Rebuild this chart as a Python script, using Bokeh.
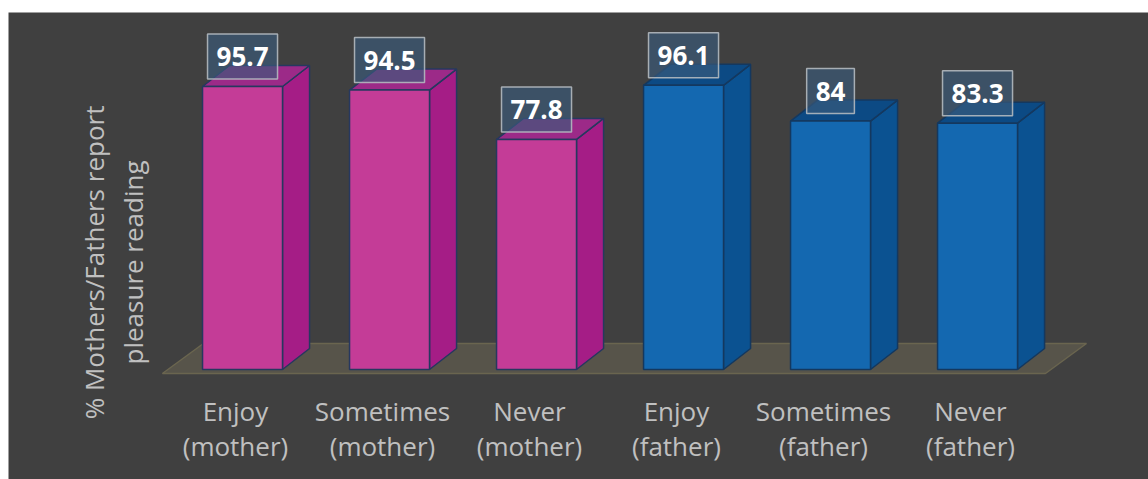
from bokeh.plotting import figure
from bokeh.models import ColumnDataSource, Label, Spacer
from bokeh.layouts import column, row
from bokeh.embed import file_html
from bokeh.resources import INLINE
from bokeh.core.properties import value

# ---- data ----
categories = ["Enjoy\n(mother)", "Sometimes\n(mother)", "Never\n(mother)",
              "Enjoy\n(father)", "Sometimes\n(father)", "Never\n(father)"]
values = [95.7, 94.5, 77.8, 96.1, 84.0, 83.3]
groups = ["mother", "mother", "mother", "father", "father", "father"]
y_title = ["% Mothers/Fathers report", "pleasure reading"]

# ---- style ----
BG = "#404040"
FRONT = {"mother": "#c43c97", "father": "#1468b0"}
SIDE = {"mother": "#a51d86", "father": "#0b5291"}
TOP = {"mother": "#9c2a88", "father": "#0c4a84"}
EDGE = {"mother": "#26385f", "father": "#14385f"}
FONT = "Open Sans"
LABEL_COLOR = "#c0c0c0"

SHIFT = 0.048   # bar centre offset from the category label
HALF = 0.272    # half width of the bar front
DX, DY = 0.184, 7.1   # 3-D depth offset (x units, y units)
FLOOR_L, FLOOR_R, FLOOR_DX = 0.497, 0.510, 0.279
FLOOR_FRONT, FLOOR_BACK = -1.35, 8.79

n = len(values)
xc = [i + SHIFT for i in range(n)]
left = [x - HALF for x in xc]
right = [x + HALF for x in xc]

p = figure(width=1140, height=467, x_range=(-1.544, 6.211), y_range=(-37.2, 120.73),
           output_backend="svg", toolbar_location=None,
           min_border_left=0, min_border_right=0, min_border_top=0, min_border_bottom=0)
p.background_fill_color = BG
p.border_fill_color = BG
p.outline_line_color = None
p.grid.visible = False
p.axis.visible = False

# floor
fl = -FLOOR_L
fr = n - 1 + FLOOR_R
p.patch([fl, fr, fr + FLOOR_DX, fl + FLOOR_DX], [FLOOR_FRONT, FLOOR_FRONT, FLOOR_BACK, FLOOR_BACK],
        fill_color="#57544a", line_color="#6a654f", line_width=1.5)

side_xs, side_ys, top_xs, top_ys = [], [], [], []
for l, r, v in zip(left, right, values):
    side_xs.append([r, r + DX, r + DX, r])
    side_ys.append([0, DY, v + DY, v])
    top_xs.append([l, r, r + DX, l + DX])
    top_ys.append([v, v, v + DY, v + DY])

src = ColumnDataSource(dict(
    left=left, right=right, top=values, bottom=[0] * n, x=xc,
    side_xs=side_xs, side_ys=side_ys, top_xs=top_xs, top_ys=top_ys,
    front=[FRONT[g] for g in groups], side=[SIDE[g] for g in groups],
    topc=[TOP[g] for g in groups], edge=[EDGE[g] for g in groups],
    label=[f"{v:g}" for v in values],
))

p.patches("side_xs", "side_ys", source=src, fill_color="side", line_color="edge", line_width=1.5)
p.patches("top_xs", "top_ys", source=src, fill_color="topc", line_color="edge", line_width=1.5)
p.quad(left="left", right="right", top="top", bottom="bottom", source=src,
       fill_color="front", line_color="edge", line_width=1.5)

# value labels
p.text(x="x", y="top", text="label", source=src, y_offset=-30,
       text_align="center", text_baseline="middle",
       text_font=value(FONT), text_font_style="bold", text_font_size="26px", text_color="white",
       background_fill_color="#3b5b7b", background_fill_alpha=0.65,
       border_line_color="#b3b9bf", border_line_width=1.5, border_line_alpha=0.9,
       padding=(9, 13))

# category labels
cat_src = ColumnDataSource(dict(x=list(range(n)), y=[0] * n, text=categories))
p.text(x="x", y="y", text="text", source=cat_src, y_offset=24,
       text_align="center", text_baseline="top", text_line_height=0.96,
       text_font=value(FONT), text_font_size="26px", text_color=LABEL_COLOR)

# y title (two lines)
for xpos, line in zip([-0.962, -0.700], y_title):
    p.add_layout(Label(x=xpos, y=36.2, text=line, angle=1.5708,
                       text_align="center", text_baseline="middle",
                       text_font=FONT, text_font_size="26px", text_color=LABEL_COLOR))

layout = column(Spacer(width=1148, height=12), row(Spacer(width=8, height=467), p))
open("out.html", "w").write(file_html(layout, INLINE))
